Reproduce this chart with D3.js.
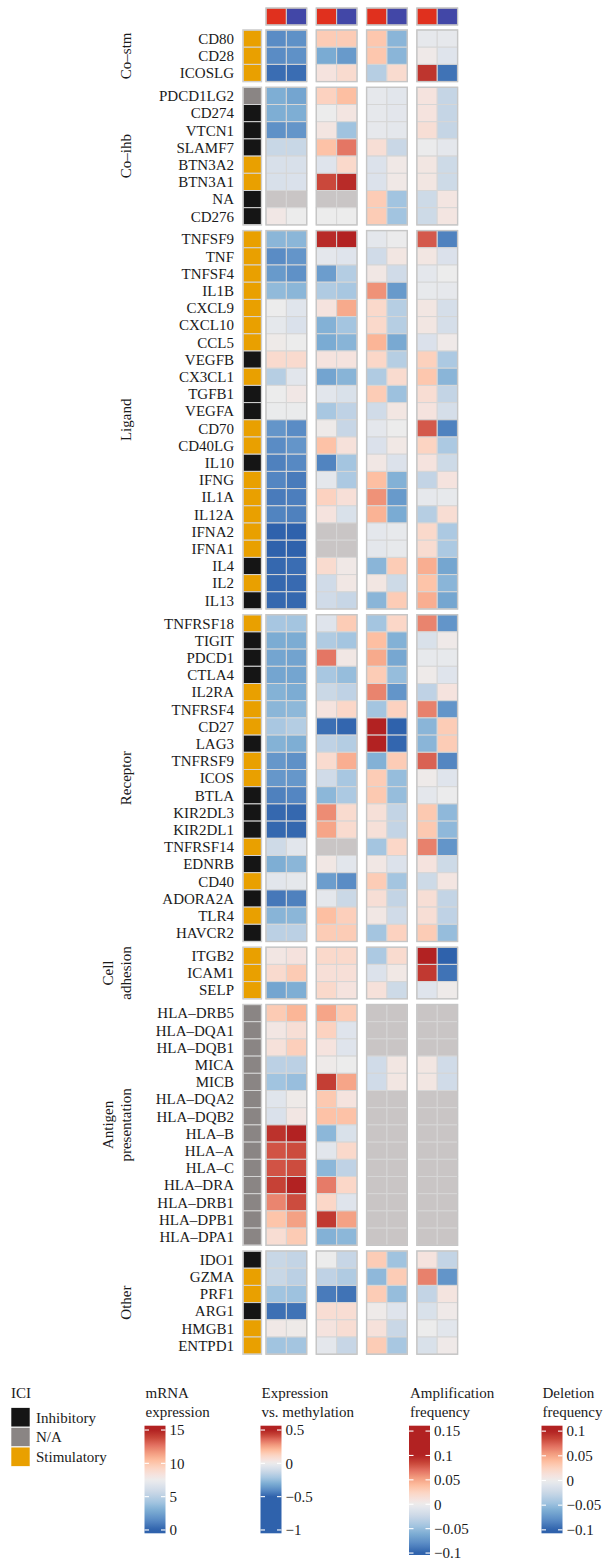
<!DOCTYPE html>
<html><head><meta charset="utf-8">
<script src="https://cdn.jsdelivr.net/npm/d3@7"></script>
<style>body{margin:0;background:#fff}svg text{font-family:"Liberation Serif","DejaVu Serif",serif;fill:#1a1a1a}</style>
</head><body><svg id="chart" width="607" height="1561"></svg>
<script>
// ---- immune checkpoint genes, grouped by function ----
const groupNames = ["Co–stm", "Co–ihb", "Ligand", "Receptor", "Cell adhesion", "Antigen presentation", "Other"];
const groupGenes = [
  ["CD80", "CD28", "ICOSLG"],
  ["PDCD1LG2", "CD274", "VTCN1", "SLAMF7", "BTN3A2", "BTN3A1", "NA", "CD276"],
  ["TNFSF9", "TNF", "TNFSF4", "IL1B", "CXCL9", "CXCL10", "CCL5", "VEGFB", "CX3CL1", "TGFB1", "VEGFA", "CD70", "CD40LG", "IL10", "IFNG", "IL1A", "IL12A", "IFNA2", "IFNA1", "IL4", "IL2", "IL13"],
  ["TNFRSF18", "TIGIT", "PDCD1", "CTLA4", "IL2RA", "TNFRSF4", "CD27", "LAG3", "TNFRSF9", "ICOS", "BTLA", "KIR2DL3", "KIR2DL1", "TNFRSF14", "EDNRB", "CD40", "ADORA2A", "TLR4", "HAVCR2"],
  ["ITGB2", "ICAM1", "SELP"],
  ["HLA–DRB5", "HLA–DQA1", "HLA–DQB1", "MICA", "MICB", "HLA–DQA2", "HLA–DQB2", "HLA–B", "HLA–A", "HLA–C", "HLA–DRA", "HLA–DRB1", "HLA–DPB1", "HLA–DPA1"],
  ["IDO1", "GZMA", "PRF1", "ARG1", "HMGB1", "ENTPD1"]
];
// ICI class per gene (I = Inhibitory, N = N/A, S = Stimulatory), same order as genes
const iciClass = [
  "S","S","S",
  "N","I","I","I","S","S","I","I",
  "S","S","S","S","S","S","S","I","S","I","I","S","S","I","S","S","S","S","S","I","S","I",
  "S","I","I","I","S","S","S","I","S","S","I","I","I","S","I","S","I","S","I",
  "S","S","S",
  "N","N","N","N","N","N","N","N","N","N","N","N","N","N",
  "I","S","S","I","S","S"
];
const iciNames = ["Inhibitory", "N/A", "Stimulatory"];
const iciColors = ["#151515", "#8a8584", "#e9a000"];

// mRNA expression, two columns per gene
const mrna = [
  [1.5,1.7],[1.5,1.7],[0.4,0.4],
  [3.0,2.6],[3.0,3.0],[1.7,1.9],[5.6,5.6],[6.4,6.4],[6.4,6.5],[null,null],[7.9,7.5],
  [3.4,3.4],[1.5,1.9],[2.1,1.7],[3.6,3.4],[7.5,6.8],[7.1,6.5],[7.7,7.5],[8.9,8.9],[4.9,6.9],[7.5,7.9],[7.4,7.4],[1.9,1.5],[1.5,1.9],[1.1,1.4],[1.3,0.9],[0.9,1.0],[1.2,1.1],[0,0],[0,0],[0.2,0.4],[0.2,0.3],[0.2,0.2],
  [4.3,4.2],[2.9,2.9],[2.6,2.5],[2.6,2.6],[3.2,2.9],[3.4,3.5],[4.4,4.8],[3.2,3.0],[2.0,1.7],[2.0,2.0],[1.1,1.3],[0.2,0.2],[0.2,0.2],[5.9,6.9],[3.0,3.4],[6.9,7.1],[0.8,1.1],[3.3,3.4],[5.1,5.1],
  [8.0,8.3],[8.9,9.8],[2.6,3.0],
  [9.8,10.7],[8.0,8.6],[8.4,9.6],[5.1,5.1],[4.1,3.8],[6.8,7.7],[6.5,8.0],[14.5,15],[13.5,13.7],[13.5,13.7],[14.0,15],[12.2,13.7],[10.1,11.4],[8.7,9.8],
  [5.6,5.4],[5.6,5.1],[4.1,4.0],[0.5,0.6],[7.8,7.7],[4.1,4.2]
];
// expression vs. methylation
const exprMeth = [
  [0.15,0.15],[-0.31,-0.36],[0.05,0.09],
  [0.13,0.19],[0,0.04],[0.04,-0.23],[0.18,0.34],[-0.05,0.1],[0.42,0.48],[null,null],[0,0],
  [0.48,0.5],[-0.03,-0.05],[-0.35,-0.18],[-0.19,-0.21],[0.05,0.24],[-0.29,-0.22],[-0.31,-0.28],[0.05,0.05],[-0.33,-0.28],[-0.04,-0.07],[-0.21,-0.15],[0.01,-0.13],[0.18,0.06],[-0.42,-0.22],[-0.03,-0.2],[0.13,0.07],[0.05,-0.07],[null,null],[null,null],[0.09,0.02],[-0.1,0.03],[-0.1,-0.13],
  [-0.05,0.15],[-0.19,-0.22],[0.34,0.03],[-0.21,-0.25],[-0.12,-0.15],[0.05,0.11],[-0.47,-0.49],[-0.15,-0.18],[0.09,0.23],[-0.1,-0.21],[-0.27,-0.2],[0.3,0.09],[0.25,0.09],[null,null],[0.03,-0.04],[-0.35,-0.4],[-0.03,-0.12],[0.19,0.14],[0.15,0.15],
  [0.1,0.1],[0.07,0.07],[0.1,0.05],
  [0.25,0.15],[0.13,-0.05],[0.05,-0.05],[0.01,0],[0.44,0.25],[0.16,0.05],[0.18,0.18],[-0.27,-0.07],[-0.04,0.1],[-0.27,-0.15],[0.33,0.11],[0.11,-0.05],[0.45,0.26],[-0.29,-0.27],
  [0,-0.13],[-0.15,-0.19],[-0.44,-0.46],[0.08,0.08],[0.05,0.08],[-0.03,-0.13]
];
// amplification frequency
const ampFreq = [
  [0.033,-0.055],[0.033,-0.055],[-0.035,0.018],
  [-0.005,-0.008],[-0.005,-0.007],[-0.005,-0.006],[0.015,-0.025],[-0.012,0.004],[-0.012,0.004],[0.03,-0.045],[0.03,-0.045],
  [-0.006,-0.001],[-0.02,0.007],[0.006,-0.02],[0.058,-0.072],[0.02,-0.035],[0.02,-0.035],[0.043,-0.063],[0.022,-0.035],[-0.038,0.018],[0.03,-0.047],[-0.02,0.007],[-0.006,0],[-0.013,0.005],[0.006,-0.012],[0.038,-0.058],[0.058,-0.072],[0.044,-0.062],[-0.006,-0.004],[-0.006,-0.004],[-0.055,0.03],[0.007,-0.022],[-0.055,0.03],
  [-0.044,0.022],[0.038,-0.058],[0.048,-0.064],[0.03,-0.05],[0.063,-0.075],[-0.044,0.026],[0.12,-0.1],[0.12,-0.098],[-0.058,0.03],[0.03,-0.05],[0.032,-0.05],[0.013,-0.028],[0.013,-0.028],[-0.044,0.022],[0.006,-0.012],[0.03,-0.044],[0.015,-0.028],[0.006,-0.02],[-0.044,0.026],
  [-0.04,0.018],[-0.012,0.005],[0.012,-0.022],
  [null,null],[null,null],[null,null],[-0.02,0.007],[-0.02,0.007],[null,null],[null,null],[null,null],[null,null],[null,null],[null,null],[null,null],[null,null],[null,null],
  [0.03,-0.046],[-0.053,0.03],[0.03,-0.05],[0.002,-0.01],[0.012,-0.025],[0.03,-0.042]
];
// deletion frequency
const delFreq = [
  [-0.005,-0.005],[0.003,-0.01],[0.092,-0.092],
  [0.01,-0.027],[0.01,-0.027],[0.015,-0.027],[-0.001,-0.006],[0.007,-0.022],[0.007,-0.022],[-0.022,0.008],[-0.022,0.008],
  [0.078,-0.085],[0.007,-0.013],[-0.006,0],[-0.004,-0.005],[0.007,-0.017],[0.007,-0.017],[-0.013,0.003],[0.027,-0.04],[0.033,-0.055],[0.016,-0.028],[0.01,-0.017],[0.078,-0.085],[0.025,-0.04],[0.01,-0.022],[-0.028,0.01],[-0.005,-0.004],[-0.035,0.016],[0.02,-0.04],[0.017,-0.04],[0.046,-0.065],[0.035,-0.055],[0.046,-0.065],
  [0.063,-0.075],[-0.014,0.003],[-0.004,-0.004],[0.002,-0.01],[-0.03,0.01],[0.064,-0.075],[-0.055,0.03],[-0.055,0.03],[0.075,-0.083],[0.002,-0.01],[-0.006,-0.001],[0.032,-0.053],[0.032,-0.053],[0.064,-0.075],[0.01,-0.022],[-0.022,0.008],[0.015,-0.028],[0.015,-0.03],[0.03,-0.05],
  [0.1,-0.1],[0.09,-0.092],[-0.01,0.002],
  [null,null],[null,null],[null,null],[0.007,-0.02],[0.007,-0.02],[null,null],[null,null],[null,null],[null,null],[null,null],[null,null],[null,null],[null,null],[null,null],
  [0.01,-0.028],[0.064,-0.075],[-0.028,0.009],[-0.014,0.003],[0,-0.008],[-0.014,0.003]
];

const panelData = [mrna, exprMeth, ampFreq, delFreq];
const headerColors = ["#e0301e", "#4247a7"];

// legend tick labels
const mrnaTicks = [0, 5, 10, 15];
const methTicks = [-1, -0.5, 0, 0.5];
const ampTicks = [-0.1, -0.05, 0, 0.05, 0.1, 0.15];
const delTicks = [-0.1, -0.05, 0, 0.05, 0.1];

// ---- colour: diverging blue-white-red on t in [-1, 1] ----
const palT = [-1, -0.8, -0.6, -0.45, -0.25, -0.1, 0, 0.1, 0.25, 0.4, 0.55, 0.7, 0.85, 1];
const palC = ["#2f62ac","#5a8cc5","#7eaed4","#a2c4e0","#c9d7e6","#dfe4ec","#ececec","#f5e3de","#fcd4c2","#fdbc9d","#f29a7e","#e27060","#c84538","#b22222"];
const pal = d3.scaleLinear().domain(palT).range(palC).interpolate(d3.interpolateRgb).clamp(true);
const NA_COLOR = "#c9c5c5";

// each panel maps its own units onto t
const toT = [
  d3.scaleLinear().domain([0, 7.5, 15]).range([-1, 0, 1]),
  d3.scaleLinear().domain([-0.5, 0, 0.5]).range([-1, 0, 1]),
  d3.scaleLinear().domain([-0.1, 0, 0.1]).range([-1, 0, 1]),
  d3.scaleLinear().domain([-0.1, 0, 0.1]).range([-1, 0, 1])
];
const fillFor = (p, v) => v == null ? NA_COLOR : pal(toT[p](v));

// ---- layout ----
const svg = d3.select("#chart");
const ROW = 17.2, GAP = 5.7, TOP = 30;
const genes = groupGenes.flat();
const gIndex = {};
groupGenes.forEach((gs, i) => gs.forEach(g => gIndex[g] = i));
const yBand = d3.scaleBand().domain(genes).range([0, genes.length * ROW]);
const yPos = g => TOP + yBand(g) + gIndex[g] * GAP;

const panelX = d3.scaleBand().domain([0, 1, 2, 3]).range([266, 457.6]).paddingInner(0.19).paddingOuter(0);
const colX = d3.scaleBand().domain([0, 1]).range([0, panelX.bandwidth()]);
const iciX = 243, iciW = 18.5;

// header strip
const header = svg.append("g");
[0, 1, 2, 3].forEach(p => {
  [0, 1].forEach(c => {
    header.append("rect")
      .attr("x", panelX(p) + colX(c)).attr("y", 8)
      .attr("width", colX.bandwidth()).attr("height", 17)
      .attr("fill", headerColors[c]).attr("stroke", "#d0d0d0").attr("stroke-width", 1);
  });
  header.append("rect")
    .attr("x", panelX(p)).attr("y", 8).attr("width", panelX.bandwidth()).attr("height", 17)
    .attr("fill", "none").attr("stroke", "#c4c4c4").attr("stroke-width", 1.3);
});

// heatmap cells
const cells = svg.append("g");
genes.forEach((g, i) => {
  const y = yPos(g);
  cells.append("rect")
    .attr("x", iciX).attr("y", y).attr("width", iciW).attr("height", ROW)
    .attr("fill", iciColors["INS".indexOf(iciClass[i])])
    .attr("stroke", "#d4d4d4").attr("stroke-width", 1);
  panelData.forEach((arr, p) => {
    arr[i].forEach((v, c) => {
      cells.append("rect")
        .attr("x", panelX(p) + colX(c)).attr("y", y)
        .attr("width", colX.bandwidth()).attr("height", ROW)
        .attr("fill", fillFor(p, v))
        .attr("stroke", "#d6d6d6").attr("stroke-width", 1);
    });
  });
  svg.append("text")
    .attr("x", 234).attr("y", y + ROW / 2).attr("dy", "0.35em")
    .attr("text-anchor", "end").attr("font-size", 15).text(g);
});

// block outlines per group
groupGenes.forEach((gs, gi) => {
  const y0 = yPos(gs[0]), h = gs.length * ROW;
  svg.append("rect").attr("x", iciX).attr("y", y0).attr("width", iciW).attr("height", h)
    .attr("fill", "none").attr("stroke", "#cfcfcf").attr("stroke-width", 1.4);
  [0, 1, 2, 3].forEach(p => {
    svg.append("rect").attr("x", panelX(p)).attr("y", y0).attr("width", panelX.bandwidth()).attr("height", h)
      .attr("fill", "none").attr("stroke", "#c6c6c6").attr("stroke-width", 1.4);
  });
  // rotated group label
  const cy = y0 + h / 2;
  const words = groupNames[gi].split(" ");
  const lines = words.length > 1 ? words : [groupNames[gi]];
  lines.forEach((ln, li) => {
    const bx = 131 - (lines.length - 1 - li) * 18;
    svg.append("text")
      .attr("transform", `translate(${bx},${cy}) rotate(-90)`)
      .attr("text-anchor", "middle").attr("font-size", 15).text(ln);
  });
});

// ---- legends ----
const leg = svg.append("g");
leg.append("text").attr("x", 11).attr("y", 1398).attr("font-size", 15).text("ICI");
iciNames.forEach((n, i) => {
  const y = 1407.7 + i * 19.7;
  leg.append("rect").attr("x", 11).attr("y", y).attr("width", 19).attr("height", 19.2)
    .attr("fill", iciColors[i]).attr("stroke", "#ffffff").attr("stroke-width", 0.6);
  leg.append("text").attr("x", 36).attr("y", y + 9.8).attr("dy", "0.35em").attr("font-size", 15).text(n);
});

const defs = svg.append("defs");
function colorBar(id, x, title, p, domTop, domBot, yTop, yBot, ticks) {
  const y = d3.scaleLinear().domain([domBot, domTop]).range([yBot, yTop]);
  const grad = defs.append("linearGradient").attr("id", id)
    .attr("x1", 0).attr("y1", 1).attr("x2", 0).attr("y2", 0);
  d3.range(0, 1.0001, 0.02).forEach(f => {
    const v = domBot + f * (domTop - domBot);
    grad.append("stop").attr("offset", f).attr("stop-color", fillFor(p, v));
  });
  const g = leg.append("g");
  title.forEach((t, i) => g.append("text").attr("x", x + 1).attr("y", 1398 + i * 18.5).attr("font-size", 15).text(t));
  const w = 21;
  g.append("rect").attr("x", x).attr("y", yTop).attr("width", w).attr("height", yBot - yTop)
    .attr("fill", `url(#${id})`);
  ticks.forEach(t => {
    g.append("line").attr("x1", x).attr("x2", x + 4.5).attr("y1", y(t)).attr("y2", y(t))
      .attr("stroke", "#fff").attr("stroke-width", 1.1);
    g.append("line").attr("x1", x + w - 4.5).attr("x2", x + w).attr("y1", y(t)).attr("y2", y(t))
      .attr("stroke", "#fff").attr("stroke-width", 1.1);
  });
  const axis = d3.axisRight(y).tickValues(ticks).tickSize(0).tickPadding(4)
    .tickFormat(d => (d < 0 ? "\u2212" : "") + String(Math.abs(d)));
  const ax = g.append("g").attr("transform", `translate(${x + w},0)`).call(axis);
  ax.select(".domain").remove();
  ax.selectAll("text").attr("font-size", 15).attr("font-family", "Liberation Serif").attr("fill", "#1a1a1a");
}
colorBar("gMrna", 144.5, ["mRNA", "expression"], 0, 15.65, -0.5, 1425.7, 1533.3, mrnaTicks);
colorBar("gMeth", 260.5, ["Expression", "vs. methylation"], 1, 0.565, -1.05, 1425.7, 1533.3, methTicks);
colorBar("gAmp", 409, ["Amplification", "frequency"], 2, 0.161, -0.104, 1425.7, 1555, ampTicks);
colorBar("gDel", 541.5, ["Deletion", "frequency"], 3, 0.111, -0.107, 1425.7, 1533.3, delTicks);
</script></body></html>
